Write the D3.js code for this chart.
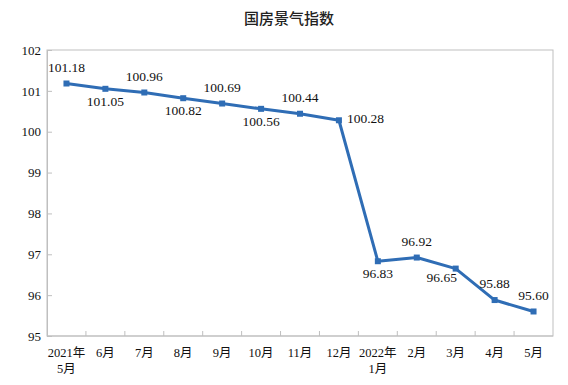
<!DOCTYPE html>
<html>
<head>
<meta charset="utf-8">
<script src="https://cdn.jsdelivr.net/npm/d3@7"></script>
<style>
  body { margin: 0; background: #fff; }
</style>
</head>
<body>
<div class="container"></div>
<script>
// data
const meses = ["2021年|5月", "6月", "7月", "8月", "9月", "10月", "11月", "12月", "2022年|1月", "2月", "3月", "4月", "5月"]
const valores = [101.18, 101.05, 100.96, 100.82, 100.69, 100.56, 100.44, 100.28, 96.83, 96.92, 96.65, 95.88, 95.60]
// where each value label sits: up, down, right
const posEtiqueta = ["up", "down", "up", "down", "up", "down", "up", "right", "down", "up", "downleft", "up", "up"]
const yTicks = [95, 96, 97, 98, 99, 100, 101, 102]

const WIDTH = 568, HEIGHT = 385
const margin = { left: 47, right: 15, top: 50, bottom: 49 }
const azul = "#2f6db5"
const gris = "#bfbfbf"
const serif = "'Liberation Serif', 'Times New Roman', serif"

const svg = d3.select(".container")
    .append("svg")
    .attr("width", WIDTH)
    .attr("height", HEIGHT)

svg.append("text")
    .attr("x", 289)
    .attr("y", 24)
    .attr("text-anchor", "middle")
    .style("font-family", "'Noto Sans CJK SC', sans-serif")
    .style("font-size", "15px")
    .style("font-weight", "500")
    .attr("fill", "#222")
    .text("国房景气指数")

const x = d3.scaleBand()
    .domain(meses)
    .range([margin.left, WIDTH - margin.right])

const y = d3.scaleLinear()
    .domain([95, 102])
    .range([HEIGHT - margin.bottom, margin.top])

// frame
svg.append("rect")
    .attr("x", margin.left)
    .attr("y", margin.top)
    .attr("width", WIDTH - margin.left - margin.right)
    .attr("height", HEIGHT - margin.top - margin.bottom)
    .attr("fill", "none")
    .attr("stroke", gris)
    .attr("stroke-width", 1)

// y axis
const ejeY = svg.append("g")
    .attr("transform", `translate(${margin.left},0)`)
    .call(d3.axisLeft(y).tickValues(yTicks).tickFormat(d3.format("d")).tickSize(-5).tickPadding(6))
ejeY.select(".domain").attr("stroke", gris)
ejeY.selectAll(".tick line").attr("stroke", gris)
ejeY.selectAll(".tick text")
    .style("font-family", serif)
    .style("font-size", "13px")
    .attr("fill", "#111")

// x axis: ticks between categories
const ejeX = svg.append("g")
    .attr("transform", `translate(0,${HEIGHT - margin.bottom})`)
ejeX.append("line")
    .attr("x1", margin.left)
    .attr("x2", WIDTH - margin.right)
    .attr("stroke", gris)
ejeX.selectAll(".sep")
    .data(meses.slice(1))
    .join("line")
    .attr("class", "sep")
    .attr("x1", d => x(d))
    .attr("x2", d => x(d))
    .attr("y1", 0)
    .attr("y2", -5)
    .attr("stroke", gris)

const etiquetasX = ejeX.selectAll(".mes")
    .data(meses)
    .join("text")
    .attr("class", "mes")
    .attr("text-anchor", "middle")
    .attr("transform", d => `translate(${x(d) + x.bandwidth() / 2},0)`)
    .style("font-family", serif + ", 'Noto Sans CJK SC'")
    .style("font-size", "12.5px")
    .attr("fill", "#111")

etiquetasX.selectAll("tspan")
    .data(d => d.split("|"))
    .join("tspan")
    .attr("x", 0)
    .attr("y", (_, i) => 21 + i * 16)
    .text(d => d)

// line
const puntos = meses.map((m, i) => ({ mes: m, valor: valores[i], pos: posEtiqueta[i] }))
const cx = d => x(d.mes) + x.bandwidth() / 2

svg.append("path")
    .datum(puntos)
    .attr("fill", "none")
    .attr("stroke", azul)
    .attr("stroke-width", 3)
    .attr("stroke-linejoin", "round")
    .attr("d", d3.line().x(cx).y(d => y(d.valor)))

svg.selectAll(".marca")
    .data(puntos)
    .join("rect")
    .attr("class", "marca")
    .attr("x", d => cx(d) - 3)
    .attr("y", d => y(d.valor) - 3)
    .attr("width", 6)
    .attr("height", 6)
    .attr("fill", azul)

const dx = { up: 0, down: 0, right: 8, downleft: -14 }
const dy = { up: -15, down: 14, right: 0, downleft: 10 }

svg.selectAll(".valor")
    .data(puntos)
    .join("text")
    .attr("class", "valor")
    .attr("x", d => cx(d) + dx[d.pos])
    .attr("y", d => y(d.valor) + dy[d.pos])
    .attr("text-anchor", d => d.pos == "right" ? "start" : "middle")
    .attr("dominant-baseline", "middle")
    .style("font-family", serif)
    .style("font-size", "13.5px")
    .attr("fill", "#111")
    .text(d => d.valor.toFixed(2))
</script>
</body>
</html>
